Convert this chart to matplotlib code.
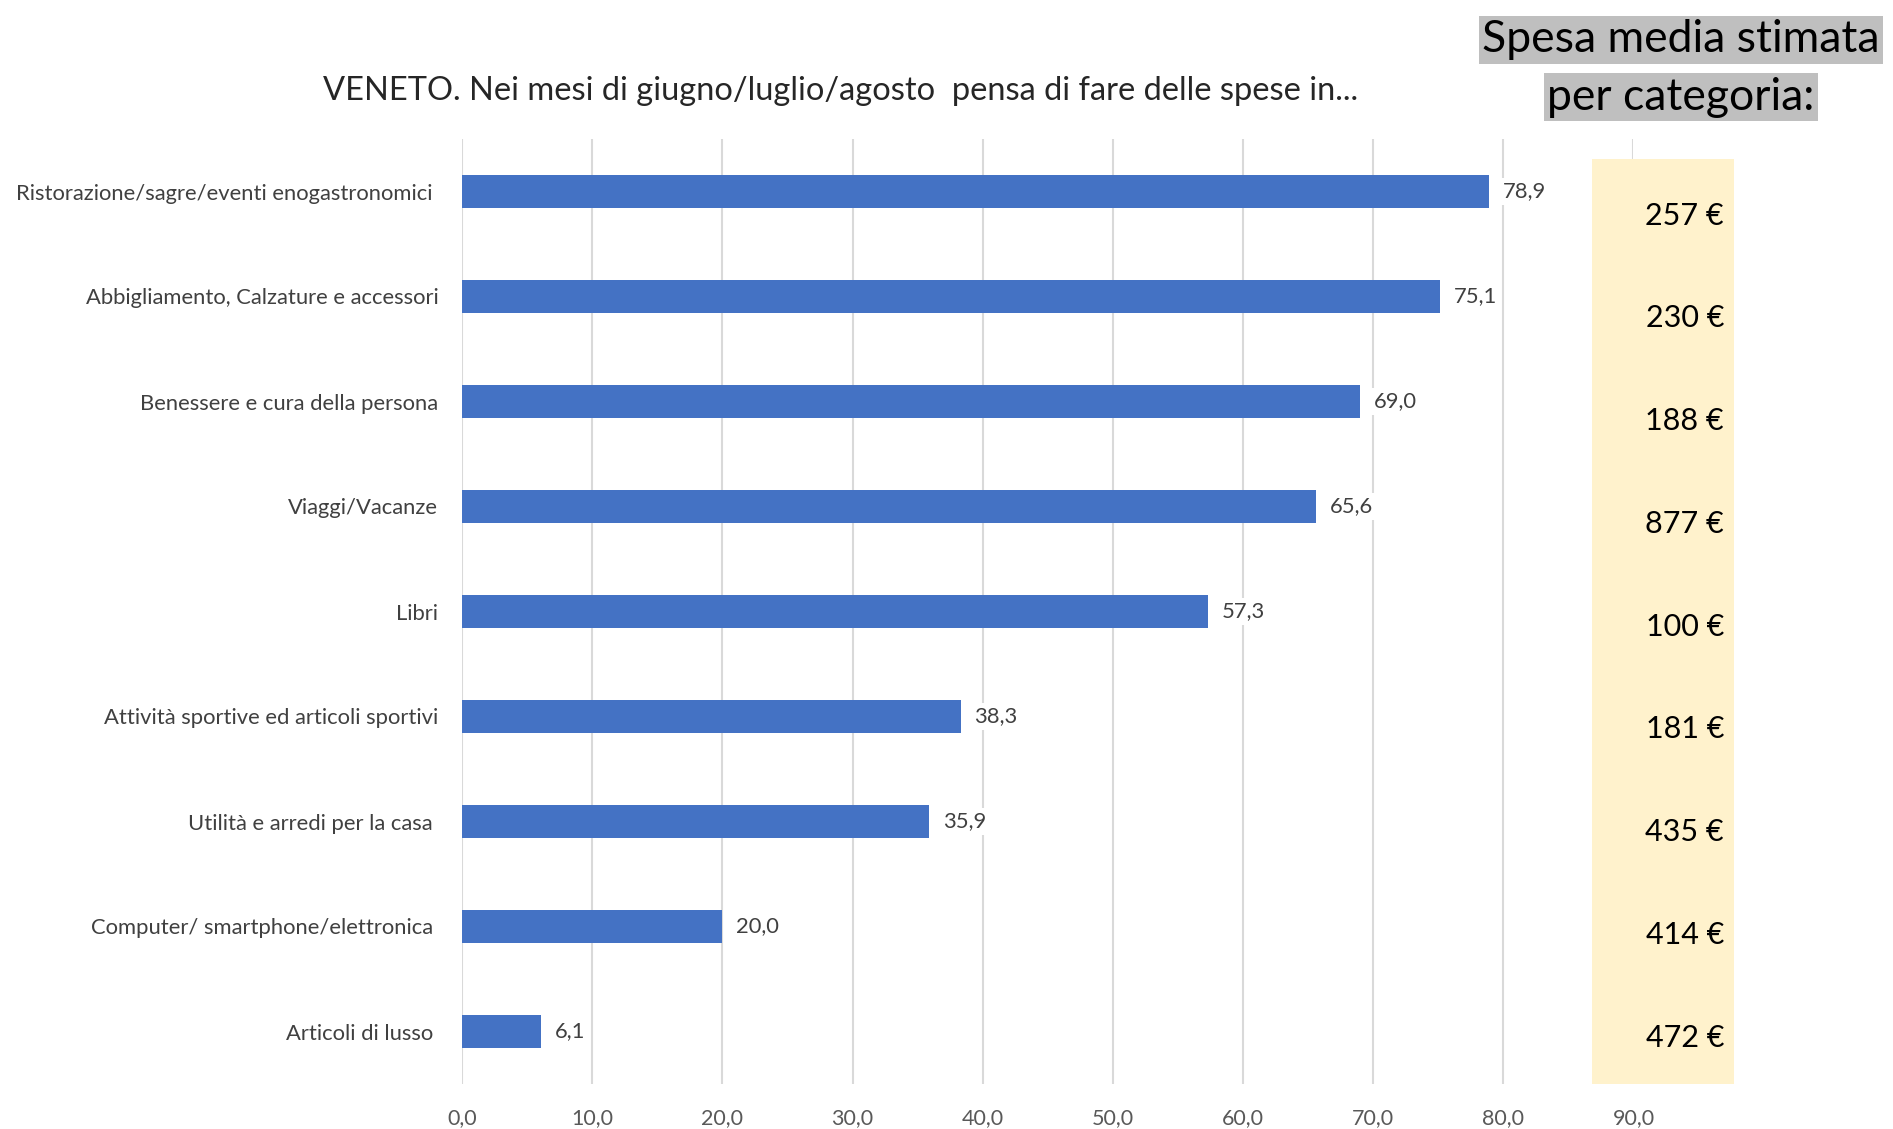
import matplotlib
matplotlib.use("Agg")
import matplotlib.pyplot as plt

plt.rcParams['font.family'] = ['Lato', 'DejaVu Sans']

categories = [
    "Ristorazione/sagre/eventi enogastronomici ",
    "Abbigliamento, Calzature e accessori",
    "Benessere e cura della persona",
    "Viaggi/Vacanze",
    "Libri",
    "Attività sportive ed articoli sportivi",
    "Utilità e arredi per la casa ",
    "Computer/ smartphone/elettronica ",
    "Articoli di lusso ",
]
values = [78.9, 75.1, 69.0, 65.6, 57.3, 38.3, 35.9, 20.0, 6.1]
spesa = ["257 €", "230 €", "188 €", "877 €", "100 €", "181 €", "435 €", "414 €", "472 €"]
xticks = [0, 10, 20, 30, 40, 50, 60, 70, 80, 90]
title = "VENETO. Nei mesi di giugno/luglio/agosto  pensa di fare delle spese in..."
header = ["Spesa media stimata", "per categoria:"]

W, H = 1893, 1129
fig = plt.figure(figsize=(W / 100, H / 100), dpi=100)
fig.patch.set_facecolor("white")

ax = fig.add_axes([462 / W, 1 - 1084 / H, (1633.5 - 462) / W, (1084 - 139) / H])
ypos = list(range(len(categories)))
ax.barh(ypos, values, height=0.31, color="#4472C4", zorder=3)
ax.set_ylim(len(categories) - 0.5, -0.5)
ax.set_xlim(0, 90)
ax.set_xticks(xticks)
ax.set_xticklabels([f"{t:.1f}".replace(".", ",") for t in xticks])
ax.set_yticks(ypos)
ax.set_yticklabels(categories)
ax.tick_params(axis="y", length=0, pad=17, labelsize=15.8, labelcolor="#404040")
ax.tick_params(axis="x", length=0, pad=17, labelsize=15.5, labelcolor="#595959")
for s in ax.spines.values():
    s.set_visible(False)
ax.grid(axis="x", color="#D9D9D9", linewidth=1.5, zorder=0)
ax.set_axisbelow(True)

for y, v in zip(ypos, values):
    ax.annotate(f"{v:.1f}".replace(".", ","), xy=(v, y), xytext=(10, 0),
                textcoords="offset points", va="center", ha="left",
                fontsize=15.8, color="#404040", zorder=4,
                bbox=dict(boxstyle="square,pad=0.15", fc="white", ec="none"))

ax.text(841 / W, 1 - 91 / H, title, transform=fig.transFigure, ha="center", va="center",
        fontsize=23.5, color="#262626")

# yellow box with estimated spend
bx = fig.add_axes([1592 / W, 1 - 1084 / H, 142 / W, 925 / H])
bx.set_facecolor("#FFF2CC")
bx.set_xlim(0, 1)
bx.set_ylim(len(spesa), 0)
bx.set_xticks([])
bx.set_yticks([])
for s in bx.spines.values():
    s.set_visible(False)
for i, t in enumerate(spesa):
    bx.text(0.93, i + 0.55, t, ha="right", va="center", fontsize=22, color="#000000")

# header with grey background
fig.text(1681 / W, 1 - 40 / H, header[0], ha="center", va="center", fontsize=32,
         color="#000000", bbox=dict(boxstyle="square,pad=0.07", fc="#BFBFBF", ec="none"))
fig.text(1681 / W, 1 - 97 / H, header[1], ha="center", va="center", fontsize=32,
         color="#000000", bbox=dict(boxstyle="square,pad=0.07", fc="#BFBFBF", ec="none"))

fig.savefig("out.png", dpi=100, facecolor="white")
